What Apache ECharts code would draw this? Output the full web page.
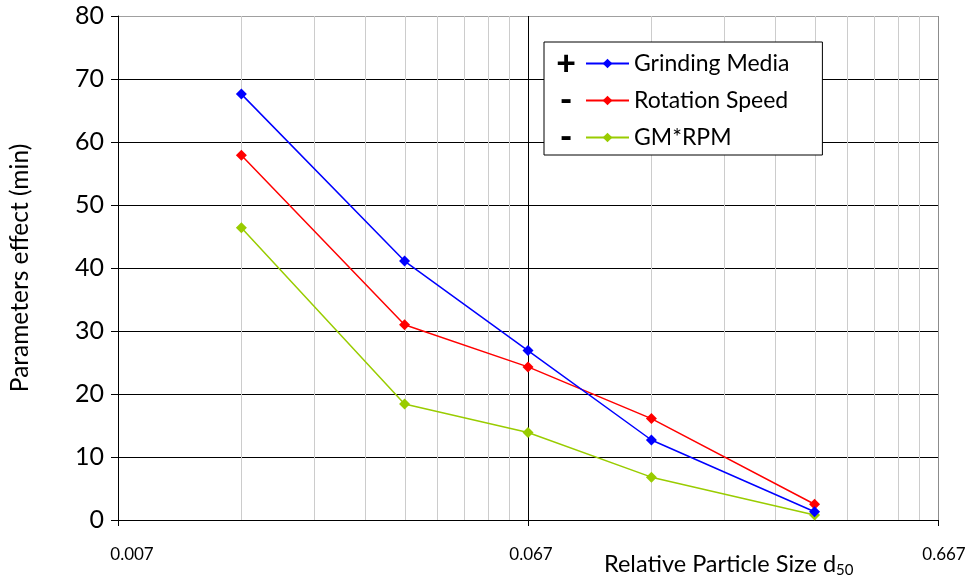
<!DOCTYPE html>
<html>
<head>
<meta charset="utf-8">
<script src="https://cdn.jsdelivr.net/npm/echarts@6/dist/echarts.min.js"></script>
<style>
  html, body { margin: 0; padding: 0; background: #fff; }
  #main { width: 971px; height: 578px; }
</style>
</head>
<body>
<div id="main"></div>
<script type="text/javascript">
// relative particle size (log axis), one point per size
var sizes = [0.01333, 0.03333, 0.06667, 0.13333, 0.33333];
var grindingMedia = [67.6, 41.1, 26.9, 12.7, 1.3];
var rotationSpeed = [57.9, 31.0, 24.3, 16.1, 2.5];
var gmRpm = [46.4, 18.4, 13.9, 6.8, 0.8];
var seriesNames = ['Grinding Media', 'Rotation Speed', 'GM*RPM'];
var signs = ['+', '-', '-'];
// x tick values (decades) and their labels
var xTicks = [0.006667, 0.06667, 0.6667];
var xTickLabels = ['0.007', '0.067', '0.667'];
// minor log gridlines: 2..9 within each decade
var minorSteps = [2, 3, 4, 5, 6, 7, 8, 9];

var FONT = 'Lato';
var Y_MIN = 0, Y_MAX = 80;

// vertical gridlines drawn through the x scale: [value, kind]
var gridX = [];
[xTicks[0], xTicks[1]].forEach(function (d) {
  minorSteps.forEach(function (m) { gridX.push([d * m, 0]); });
});
gridX.push([xTicks[1], 1]);
gridX.push([xTicks[2], 2]);
var gridColors = ['#cccccc', '#000000', '#8c8c8c'];

function pairs(vals) {
  return sizes.map(function (s, i) { return [s, vals[i]]; });
}

var myChart = echarts.init(document.getElementById('main'));

var option = {
  animation: false,
  textStyle: { fontFamily: FONT },
  grid: { left: 116, right: 33, top: 16, bottom: 58 },
  title: {
    text: 'Relative Particle Size d{sub|50}',
    left: 599, top: 546,
    textStyle: {
      fontFamily: FONT, fontSize: 23.5, fontWeight: 'normal', color: '#000',
      rich: { sub: { fontFamily: FONT, fontSize: 15, verticalAlign: 'bottom', padding: [12, 0, 0, 0], color: '#000' } }
    }
  },
  legend: {
    orient: 'vertical',
    left: 544, top: 42,
    padding: [10, 33, 6, 41],
    itemGap: 14,
    itemWidth: 43, itemHeight: 12,
    borderColor: '#000', borderWidth: 1,
    backgroundColor: '#fff',
    textStyle: { fontFamily: FONT, fontSize: 23, color: '#000' },
    data: seriesNames
  },
  graphic: signs.map(function (s, i) {
    return {
      type: 'text', x: 566, y: [64, 100, 137][i],
      z: 100,
      style: {
        text: s, fontFamily: FONT, fontSize: s === '+' ? 34 : 34, fontWeight: 900, fill: '#000',
        align: 'center', verticalAlign: 'middle'
      }
    };
  }),
  xAxis: {
    type: 'log', logBase: 10,
    min: xTicks[0], max: xTicks[2],
    axisLine: { lineStyle: { color: '#000', width: 1 } },
    axisTick: { show: true, inside: false, length: 6, lineStyle: { color: '#000' }, customValues: xTicks },
    axisLabel: {
      customValues: xTicks,
      fontSize: 17, color: '#000', margin: 26,
      formatter: function (v) {
        var i = 0, best = Infinity;
        xTicks.forEach(function (t, k) {
          var d = Math.abs(Math.log(v / t));
          if (d < best) { best = d; i = k; }
        });
        return '{l' + i + '|' + xTickLabels[i] + '}';
      },
      rich: {
        l0: { fontFamily: FONT, fontSize: 17, color: '#000', padding: [0, 0, 0, 28] },
        l1: { fontFamily: FONT, fontSize: 17, color: '#000', padding: [0, 0, 0, 6] },
        l2: { fontFamily: FONT, fontSize: 17, color: '#000', padding: [0, 0, 0, 12] }
      }
    },
    splitLine: { show: false },
    minorTick: { show: false },
    minorSplitLine: { show: false }
  },
  yAxis: {
    type: 'value', min: Y_MIN, max: Y_MAX, interval: 10,
    name: 'Parameters effect (min)',
    nameLocation: 'middle', nameGap: 85, nameRotate: 90,
    nameTextStyle: { fontFamily: FONT, fontSize: 24.5, color: '#000' },
    axisLine: { show: true, lineStyle: { color: '#000', width: 1 } },
    axisTick: { show: true, inside: false, length: 7, lineStyle: { color: '#000' } },
    axisLabel: { fontFamily: FONT, fontSize: 25, color: '#000', margin: 14 },
    splitLine: {
      show: true,
      lineStyle: { color: ['#000', '#000', '#000', '#000', '#000', '#000', '#000', '#000', '#a0a0a0'], width: 1 }
    }
  },
  series: [
    {
      name: 'grid', type: 'custom', silent: true, z: 1,
      data: gridX,
      encode: { x: 0 },
      renderItem: function (params, api) {
        var p0 = api.coord([api.value(0), Y_MIN]);
        var p1 = api.coord([api.value(0), Y_MAX]);
        var x = Math.round(p0[0]) + 0.5;
        return {
          type: 'line',
          shape: { x1: x, y1: p0[1], x2: x, y2: p1[1] },
          style: { stroke: gridColors[api.value(1)], lineWidth: 1 }
        };
      }
    },
    {
      name: seriesNames[0], type: 'line', data: pairs(grindingMedia),
      symbol: 'diamond', symbolSize: 11, z: 5,
      itemStyle: { color: '#0000ff' }, lineStyle: { color: '#0000ff', width: 1.5 }
    },
    {
      name: seriesNames[1], type: 'line', data: pairs(rotationSpeed),
      symbol: 'diamond', symbolSize: 11, z: 4,
      itemStyle: { color: '#ff0000' }, lineStyle: { color: '#ff0000', width: 1.5 }
    },
    {
      name: seriesNames[2], type: 'line', data: pairs(gmRpm),
      symbol: 'diamond', symbolSize: 11, z: 3,
      itemStyle: { color: '#99cc00' }, lineStyle: { color: '#99cc00', width: 1.5 }
    }
  ]
};

myChart.setOption(option);
</script>
</body>
</html>
